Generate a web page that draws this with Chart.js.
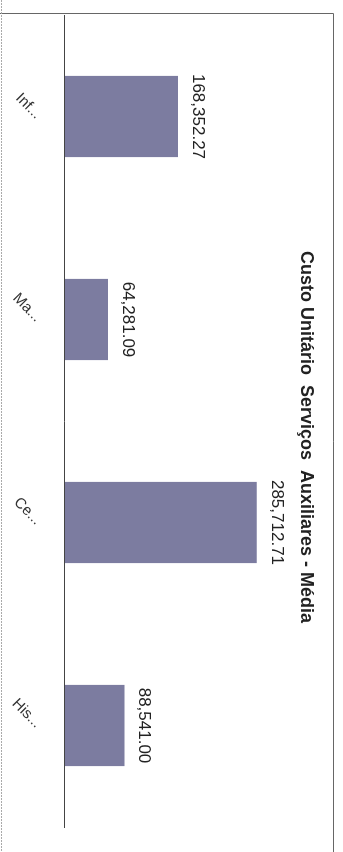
<!DOCTYPE html>
<html>
<head>
<meta charset="utf-8">
<script src="https://cdn.jsdelivr.net/npm/chart.js@4"></script>
<style>
  html, body { margin: 0; padding: 0; background: #fff; overflow: hidden; }
  body { width: 343px; height: 852px; position: relative; }
  /* o gráfico foi digitalizado de lado: desenha normal e gira 90 graus */
  #wrap {
    position: absolute; left: 0; top: 0;
    width: 870px; height: 343px;
    transform-origin: 0 0;
    transform: translate(343px, 0) rotate(90deg);
  }
</style>
</head>
<body>
<div id="wrap"><canvas id="grafico" width="870" height="343"></canvas></div>
<script>
(function () {

  // Dados
  const categorias = ['Inf...', 'Ma...', 'Ce...', 'His...'];
  const custoMedio = [168352.27, 64281.09, 285712.71, 88541.00];
  const titulo     = 'Custo Unitário  Serviços  Auxiliares - Média';
  const eixoMin    = 0;
  const eixoMax    = 342000;

  const fonte = "'Liberation Sans', Arial, sans-serif";

  const fmt = (v) => v.toLocaleString('en-US', { minimumFractionDigits: 2, maximumFractionDigits: 2 });

  // Moldura externa do gráfico
  const moldura = {
    id: 'moldura',
    beforeDraw: (chart) => {
      const ctx = chart.ctx;
      ctx.save();
      ctx.fillStyle = '#fff';
      ctx.fillRect(0, 0, chart.width, chart.height);
      ctx.strokeStyle = '#666';
      ctx.lineWidth = 1;
      ctx.beginPath();
      ctx.moveTo(13.5, chart.height);
      ctx.lineTo(13.5, 9.5);
      ctx.lineTo(chart.width, 9.5);
      ctx.stroke();
      // borda de baixo, mais clara na digitalização
      ctx.strokeStyle = '#aaa';
      ctx.setLineDash([2, 1]);
      ctx.beginPath();
      ctx.moveTo(0, chart.height - 1.5);
      ctx.lineTo(chart.width, chart.height - 1.5);
      ctx.stroke();
      ctx.restore();
    }
  };

  // Rótulos de valor acima de cada barra
  const rotulos = {
    id: 'rotulos',
    afterDatasetsDraw: (chart) => {
      const ctx = chart.ctx;
      const meta = chart.getDatasetMeta(0);
      ctx.save();
      ctx.font = '17px ' + fonte;
      ctx.fillStyle = '#222';
      ctx.textAlign = 'center';
      ctx.textBaseline = 'alphabetic';
      meta.data.forEach((bar, i) => {
        ctx.fillText(fmt(custoMedio[i]), bar.x, bar.y - 15);
      });
      ctx.restore();
    }
  };

  new Chart(document.getElementById('grafico'), {
    type: 'bar',
    data: {
      labels: categorias,
      datasets: [{
        data              : custoMedio,
        backgroundColor   : '#7c7ca0',
        borderWidth       : 0,
        barPercentage     : 0.4,
        categoryPercentage: 1
      }]
    },
    options: {
      responsive: false,
      animation : false,
      layout: { padding: { top: 9, left: 15, right: 11, bottom: 0 } },
      plugins: {
        legend : { display: false },
        tooltip: { enabled: false },
        title: {
          display: true,
          text   : titulo,
          color  : '#222',
          font   : { family: fonte, size: 18, weight: 'bold' },
          padding: { top: 17, bottom: 1 }
        }
      },
      scales: {
        x: {
          grid  : { display: false },
          border: { display: true, color: '#444', width: 1 },
          ticks : {
            autoSkip   : false,
            minRotation: 45,
            maxRotation: 45,
            padding    : 12,
            color      : '#333',
            font       : { family: fonte, size: 15 }
          },
          afterFit: (s) => { s.height = 65; }
        },
        y: {
          position: 'right',
          min     : eixoMin,
          max     : eixoMax,
          grid    : { display: false },
          border  : { display: false },
          ticks   : { display: false },
          afterFit: (s) => { s.width = 32; }
        }
      }
    },
    plugins: [moldura, rotulos]
  });

})();
</script>
</body>
</html>
